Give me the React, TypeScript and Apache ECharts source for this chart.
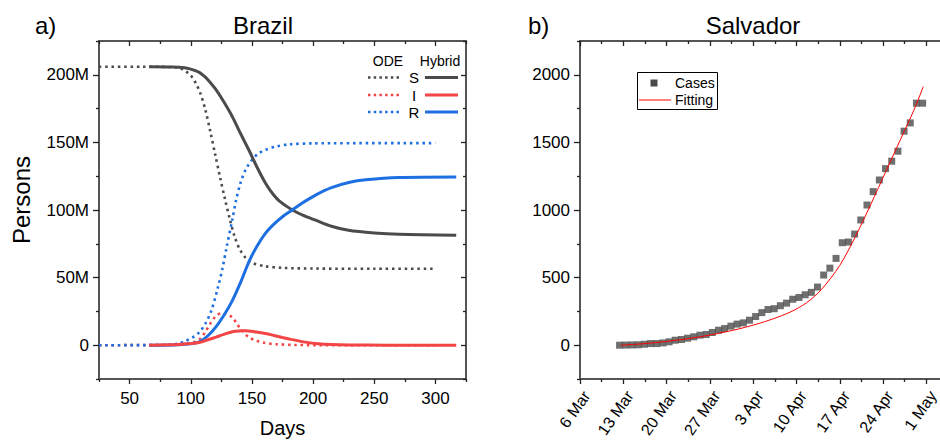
import React, { useEffect, useRef } from 'react';
import * as echarts from 'echarts';

const FONT = '"Liberation Sans", Arial, Helvetica, sans-serif';
const GRAY = '#4b4b4b';
const RED = '#f34545';
const BLUE = '#1d6fe2';
const AXIS_COLOR = '#555555';

// ---- Brazil (a): days vs persons (millions) ----
const odeS = [[25,206],[60,206],[90,205.3],[96,202.5],[100,199.5],[104,194],[108,186],[112,174],[116,158],[120,141],[124,124],[128,108],[132,93],[136,80],[140,71],[145,64.5],[150,61],[160,58.5],[175,57.2],[200,56.7],[250,56.5],[300,56.5]];
const odeI = [[25,0],[85,0.2],[95,0.8],[100,1.5],[104,2.8],[108,5],[112,10],[116,16],[120,21],[124.6,23.5],[129,23],[134,20.5],[138,15.5],[142,10.5],[147,6.2],[152,3.8],[160,1.8],[170,0.7],[185,0.2],[210,0],[300,0]];
const odeR = [[25,0],[80,0.2],[90,1.2],[96,3.2],[102,6],[107,9.5],[112,16],[117,26],[122,42],[126,57],[129,71],[134,93],[137,107],[141,121],[145,130],[150,137],[155,141.5],[161,144.5],[170,147],[180,148.5],[200,149.3],[300,149.5]];
const hybS = [[66,206],[85,205.8],[95,205.2],[100,204.2],[104,203],[107,201.8],[111,199],[114,196.3],[120.6,189],[127,180],[134,169],[141,156],[147.7,144],[154,132],[161,120],[167,112],[172,107],[178,103],[183,100],[192,96],[202,92.5],[215,88],[229,85],[250,83],[270,82],[317,81.3]];
const hybI = [[66,0],[90,0.5],[100,1.2],[107,2],[114,4],[120.6,6],[127,8],[134,10],[140,10.6],[145,10.7],[152,10],[161,8.6],[168,7.2],[175,5.7],[182,4.3],[188,3.2],[195,2.1],[202,1.3],[215,0.5],[230,0.2],[260,0],[317,0]];
const hybR = [[66,0],[90,0.4],[100,1],[107,2.4],[114,7],[120.6,13.6],[127,22],[134,33],[141,47],[147.7,62],[154,73],[161,82.7],[168,89.5],[175,95],[183,100],[190,104.5],[202,111],[215,116.5],[230,120.5],[243,122.3],[270,124],[317,124.4]];

const leftXMajor = [50, 100, 150, 200, 250, 300];
const leftXMinor = [25, 75, 125, 175, 225, 275, 325];
const leftYMajor = [0, 50, 100, 150, 200];
const leftYMinor = [-25, 25, 75, 125, 175, 225];

// ---- Salvador (b): days after 6 Mar vs cases ----
const dateLabels = ['6 Mar', '13 Mar', '20 Mar', '27 Mar', '3 Apr', '10 Apr', '17 Apr', '24 Apr', '1 May'];
const dateTicks = [0, 7, 14, 21, 28, 35, 42, 49, 56];
const dateMinor = [3.5, 10.5, 17.5, 24.5, 31.5, 38.5, 45.5, 52.5, 59.5];
const rightYMajor = [0, 500, 1000, 1500, 2000];
const rightYMinor = [-250, 250, 750, 1250, 1750, 2250];

const casesFirstDay = 6.4;
const cases = [0,1,2,3,7,12,12,17,25,37,42,52,62,74,79,94,111,123,141,156,165,185,212,241,264,270,292,311,340,353,373,391,430,519,570,642,758,763,822,926,1037,1136,1222,1306,1361,1435,1583,1644,1790,1790];
const fitting = [[6.6,0],[10,10],[14,28],[19.4,62],[24.8,111],[28.5,155],[31.2,195],[34,245],[36.6,313],[39,410],[42,590],[44.6,810],[47,1040],[49.5,1290],[52,1540],[54,1740],[55.5,1913]];

function axisSet(dim: 'x' | 'y', gridIndex: number, min: number, max: number, majors: number[], minors: number[], fmt: (v: number) => string, labelExtra: any) {
  const mainPos = dim === 'x' ? 'bottom' : 'left';
  const mirrorPos = dim === 'x' ? 'top' : 'right';
  const base = { type: 'value', gridIndex, min, max, splitLine: { show: false } };
  const tickStyle = { color: '#222', width: 1.3 };
  return [
    {
      ...base, position: mainPos,
      axisLine: { show: true, onZero: false, lineStyle: { color: AXIS_COLOR, width: 2 } },
      axisTick: { show: true, inside: false, length: dim === 'x' ? 5 : 6, customValues: majors, lineStyle: tickStyle },
      axisLabel: { show: true, customValues: majors, formatter: fmt, fontFamily: FONT, fontSize: 17, color: '#000', ...labelExtra },
    },
    {
      ...base, position: mainPos,
      axisLine: { show: false, onZero: false },
      axisTick: { show: true, inside: false, length: 3, customValues: minors, lineStyle: tickStyle },
      axisLabel: { show: false },
    },
    {
      ...base, position: mirrorPos,
      axisLine: { show: true, onZero: false, lineStyle: { color: AXIS_COLOR, width: 2 } },
      axisTick: { show: true, inside: true, length: 5, customValues: majors, lineStyle: tickStyle },
      axisLabel: { show: false },
    },
    {
      ...base, position: mirrorPos,
      axisLine: { show: false, onZero: false },
      axisTick: { show: true, inside: true, length: 3, customValues: minors, lineStyle: tickStyle },
      axisLabel: { show: false },
    },
  ];
}

function txt(text: string, x: number, y: number, size: number, align: string, extra: any = {}) {
  return {
    type: 'text', x, y, ...extra,
    style: { text, fill: '#000', font: `${size}px ${FONT}`, textAlign: align, textVerticalAlign: 'middle' },
  };
}

function seg(x1: number, x2: number, y: number, color: string, width: number, dash?: number[]) {
  return {
    type: 'line', shape: { x1, y1: y, x2, y2: y },
    style: { stroke: color, lineWidth: width, lineDash: dash || null },
  };
}

export default function App() {
  const ref = useRef<HTMLDivElement>(null);
  useEffect(() => {
    const chart = echarts.init(ref.current!, null, { renderer: 'svg' });
    const dotted = [2.5, 3.8];
    const legendDotted = [2.5, 3.2];
    const lineSeries = (name: string, data: number[][], color: string, isDotted: boolean) => ({
      name, type: 'line', xAxisIndex: 0, yAxisIndex: 0, data, showSymbol: false, symbol: 'none',
      smooth: 0.3,
      lineStyle: { color, width: isDotted ? 2.6 : 3, type: isDotted ? dotted : 'solid', cap: 'butt' },
      itemStyle: { color },
    });
    const caseData = cases.map((v, i) => [casesFirstDay + i, v]);

    const leftRows = [
      { label: 'S', color: GRAY, y: 77.5 },
      { label: 'I', color: RED, y: 95 },
      { label: 'R', color: BLUE, y: 112 },
    ];
    const legendLeft: any[] = [txt('ODE', 388, 61, 14, 'center'), txt('Hybrid', 440, 61, 14, 'center')];
    leftRows.forEach((r) => {
      legendLeft.push(seg(368, 401, r.y, r.color, 2.6, legendDotted));
      legendLeft.push(txt(r.label, 414, r.y, 15, 'center'));
      legendLeft.push(seg(425, 458, r.y, r.color, 3));
    });

    const option: any = {
      animation: false,
      backgroundColor: '#ffffff',
      grid: [
        { left: 99, top: 41, width: 367, height: 338, outerBoundsMode: 'none', containLabel: false },
        { left: 580, top: 41, width: 368, height: 338, outerBoundsMode: 'none', containLabel: false },
      ],
      xAxis: [
        ...axisSet('x', 0, 25, 325, leftXMajor, leftXMinor, (v) => String(v), { margin: 11 }),
        ...axisSet('x', 1, 0, 59.5, dateTicks, dateMinor, (v) => dateLabels[Math.round(v / 7)] || '', { rotate: 55, margin: 9, fontSize: 16, verticalAlign: 'top' }),
      ],
      yAxis: [
        ...axisSet('y', 0, -25, 225, leftYMajor, leftYMinor, (v) => (v === 0 ? '0' : `${v}M`), { margin: 10 }),
        ...axisSet('y', 1, -250, 2250, rightYMajor, rightYMinor, (v) => String(v), { margin: 10 }),
      ],
      series: [
        lineSeries('ODE S', odeS, GRAY, true),
        lineSeries('ODE I', odeI, RED, true),
        lineSeries('ODE R', odeR, BLUE, true),
        lineSeries('Hybrid S', hybS, GRAY, false),
        lineSeries('Hybrid R', hybR, BLUE, false),
        lineSeries('Hybrid I', hybI, RED, false),
        {
          name: 'Cases', type: 'scatter', xAxisIndex: 4, yAxisIndex: 4, data: caseData,
          symbol: 'rect', symbolSize: 7, itemStyle: { color: GRAY },
        },
        {
          name: 'Fitting', type: 'line', xAxisIndex: 4, yAxisIndex: 4, data: fitting,
          showSymbol: false, symbol: 'none', smooth: 0.3,
          lineStyle: { color: '#ff0000', width: 1 }, itemStyle: { color: '#ff0000' }, z: 3,
        },
      ],
      graphic: [
        txt('a)', 35, 25, 24, 'left'),
        txt('Brazil', 263, 25, 24, 'center'),
        txt('b)', 528, 25, 24, 'left'),
        txt('Salvador', 753, 25, 24, 'center'),
        txt('Persons', 21, 200, 24, 'center', { rotation: Math.PI / 2 }),
        txt('Days', 282.5, 428, 20, 'center'),
        ...legendLeft,
        {
          type: 'rect', shape: { x: 637.5, y: 72.5, width: 80, height: 37 },
          style: { fill: '#ffffff', stroke: '#000', lineWidth: 1 },
        },
        { type: 'rect', shape: { x: 650.5, y: 79.5, width: 7, height: 7 }, style: { fill: GRAY } },
        txt('Cases', 675, 83, 14, 'left'),
        seg(639, 671, 100, '#ff0000', 1),
        txt('Fitting', 675, 100, 14, 'left'),
      ],
    };
    chart.setOption(option);
    return () => chart.dispose();
  }, []);
  return <div ref={ref} style={{ position: 'absolute', left: 0, top: 0, width: 940, height: 441 }} />;
}
